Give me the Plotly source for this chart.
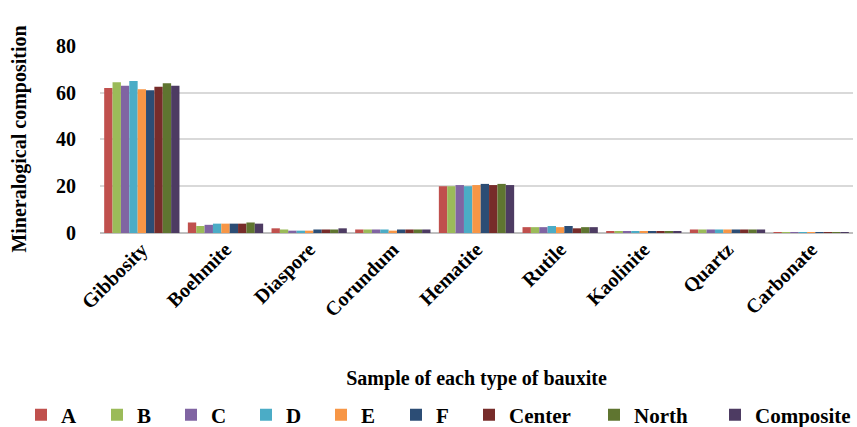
import plotly.graph_objects as go

categories = ["Gibbosity", "Boehmite", "Diaspore", "Corundum", "Hematite",
              "Rutile", "Kaolinite", "Quartz", "Carbonate"]
series_names = ["A", "B", "C", "D", "E", "F", "Center", "North", "Composite"]
A = [62.0, 4.5, 2.0, 1.5, 20.0, 2.5, 0.5, 1.5, 0.3]
B = [64.5, 3.0, 1.5, 1.5, 20.0, 2.5, 0.5, 1.5, 0.3]
C = [63.0, 3.5, 1.0, 1.5, 20.5, 2.5, 0.5, 1.5, 0.3]
D = [65.0, 4.0, 1.0, 1.5, 20.0, 3.0, 0.5, 1.5, 0.3]
E = [61.5, 4.0, 1.0, 1.0, 20.5, 2.5, 0.5, 1.5, 0.3]
F = [61.0, 4.0, 1.5, 1.5, 21.0, 3.0, 0.5, 1.5, 0.3]
Center = [62.5, 4.0, 1.5, 1.5, 20.5, 2.0, 0.5, 1.5, 0.3]
North = [64.0, 4.5, 1.5, 1.5, 21.0, 2.5, 0.5, 1.5, 0.3]
Composite = [63.0, 4.0, 2.0, 1.5, 20.5, 2.5, 0.5, 1.5, 0.3]
series_values = [A, B, C, D, E, F, Center, North, Composite]
colors = ["#C0504D", "#9BBB59", "#8064A2", "#4BACC6", "#F79646",
          "#2C4D75", "#772C2A", "#5F7530", "#4D3B62"]
y_ticks = [0, 20, 40, 60, 80]

FONT = "Liberation Serif"
W, H = 857, 427
legend_left_px = [36, 112, 186, 261, 336, 411, 484, 609, 730]

fig = go.Figure()
layout_legends = {}
for i, (name, vals, col) in enumerate(zip(series_names, series_values, colors)):
    key = "legend" if i == 0 else f"legend{i + 1}"
    fig.add_trace(go.Bar(x=categories, y=vals, name="<b>" + name + "</b>",
                         legend=key, showlegend=True,
                         marker=dict(color=col, line=dict(width=0))))
    layout_legends[key] = dict(
        orientation="h", xref="container", x=(legend_left_px[i] - 15) / W,
        xanchor="left", yref="container", y=(H - 415) / H, yanchor="middle",
        font=dict(family=FONT, size=21, color="black"), visible=True,
        itemwidth=30, bgcolor="rgba(0,0,0,0)")

fig.update_layout(
    width=W, height=H, showlegend=True,
    barmode="group", bargap=0.1, bargroupgap=0,
    plot_bgcolor="white", paper_bgcolor="white",
    margin=dict(l=100, r=4, t=45, b=194, autoexpand=False),
    font=dict(family=FONT, color="black", size=20),
    xaxis=dict(tickangle=-45, tickfont=dict(family=FONT, size=20, weight="bold"),
               showline=False, ticks="",
               title=dict(text="<b>Sample of each type of bauxite</b>",
                          font=dict(family=FONT, size=20), standoff=51)),
    yaxis=dict(range=[0, 80.4], tickvals=y_ticks, showgrid=True, gridcolor="#D9D9D9",
               gridwidth=2, zeroline=True, zerolinecolor="#BFBFBF", zerolinewidth=2,
               tickfont=dict(family=FONT, size=20, weight="bold"), ticks="",
               ticklabelstandoff=23,
               title=dict(text="<b>Mineralogical composition</b>",
                          font=dict(family=FONT, size=20), standoff=24)),
    **layout_legends,
)

fig.write_html("out.html", config={"displayModeBar": False},
               post_script="document.body.style.margin='0';")
